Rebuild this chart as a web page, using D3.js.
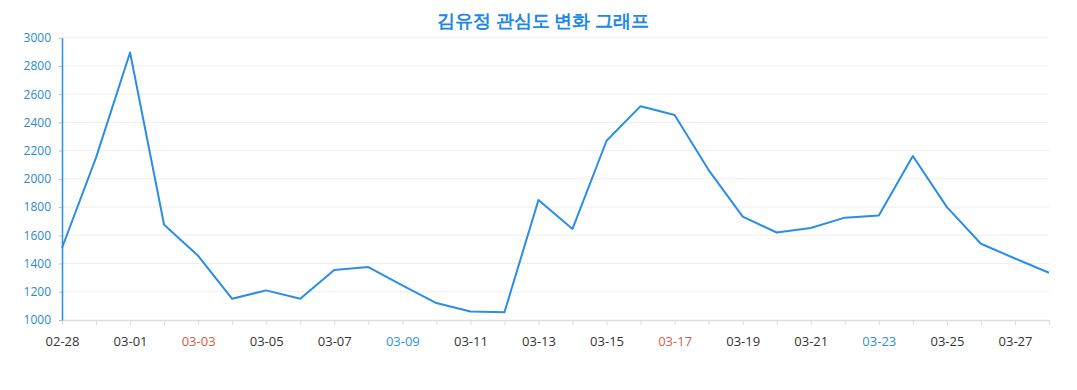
<!DOCTYPE html>
<html>
<head>
<meta charset="UTF-8" />
<script src="https://cdn.jsdelivr.net/npm/d3@7"></script>
<style>
  body { margin: 0; background: #fff; }
  svg { display: block; }
  text { font-family: "Open Sans", "Noto Sans", sans-serif; }
</style>
</head>
<body>
<div id="chart"></div>
<script>
const dates = ["02-28","02-29","03-01","03-02","03-03","03-04","03-05","03-06","03-07","03-08",
  "03-09","03-10","03-11","03-12","03-13","03-14","03-15","03-16","03-17","03-18",
  "03-19","03-20","03-21","03-22","03-23","03-24","03-25","03-26","03-27","03-28"];
const values = [1510, 2150, 2895, 1675, 1455, 1150, 1210, 1150, 1355, 1375,
  1245, 1120, 1060, 1055, 1850, 1645, 2270, 2515, 2452, 2062,
  1732, 1620, 1652, 1725, 1740, 2162, 1800, 1540, 1436, 1335];
const yTicks = [1000, 1200, 1400, 1600, 1800, 2000, 2200, 2400, 2600, 2800, 3000];
const redDates = ["03-03", "03-17"];
const blueDates = ["03-09", "03-23"];
const title = "김유정 관심도 변화 그래프";

const w = 1077, h = 390;
const padL = 62, padR = 1049, padT = 37.7, padB = 320;

const svg = d3.select("#chart").append("svg").attr("width", w).attr("height", h);

const x = d3.scalePoint().domain(dates).range([padL, padR]);
const y = d3.scaleLinear().domain([1000, 3000]).range([padB, padT]);

svg.append("text")
  .attr("x", 543).attr("y", 27)
  .attr("text-anchor", "middle")
  .attr("font-family", "'Noto Sans CJK KR', sans-serif")
  .attr("font-weight", "bold")
  .attr("font-size", 18)
  .attr("fill", "#1e88e5")
  .text(title);

// grid
svg.append("g").selectAll("line").data(yTicks.slice(1)).enter().append("line")
  .attr("x1", padL).attr("x2", padR)
  .attr("y1", d => y(d)).attr("y2", d => y(d))
  .attr("stroke", "#eeeeee").attr("stroke-width", 1);

// x axis
const xAxis = svg.append("g")
  .attr("transform", "translate(0," + padB + ")")
  .call(d3.axisBottom(x).tickSize(5).tickSizeOuter(0).tickPadding(12)
    .tickFormat((d, i) => i % 2 === 0 ? d : ""));
xAxis.select(".domain").attr("stroke", "#dddddd").attr("stroke-width", 1.5);
xAxis.selectAll(".tick line").attr("stroke", "#dddddd");
xAxis.selectAll(".tick text")
  .attr("font-size", 13)
  .attr("font-family", "'Open Sans', sans-serif")
  .attr("fill", d => redDates.includes(d) ? "#dc5a42" : blueDates.includes(d) ? "#2a93d5" : "#333");

// y axis
const yAxis = svg.append("g")
  .attr("transform", "translate(" + padL + ",0)")
  .call(d3.axisLeft(y).tickValues(yTicks).tickFormat(d3.format("d"))
    .tickSize(3).tickSizeOuter(0).tickPadding(8));
yAxis.select(".domain").attr("stroke", "#2a8ee0").attr("stroke-width", 1.5);
yAxis.selectAll(".tick line").attr("stroke", "#bbbbbb");
yAxis.selectAll(".tick text")
  .attr("font-size", 12)
  .attr("font-family", "'Open Sans', sans-serif")
  .attr("fill", "#2a8ad0");

// line
const line = d3.line().x((d, i) => x(dates[i])).y(d => y(d));
svg.append("path")
  .datum(values)
  .attr("d", line)
  .attr("fill", "none")
  .attr("stroke", "#2a8ee8")
  .attr("stroke-width", 2)
  .attr("stroke-linejoin", "round");
</script>
</body>
</html>
